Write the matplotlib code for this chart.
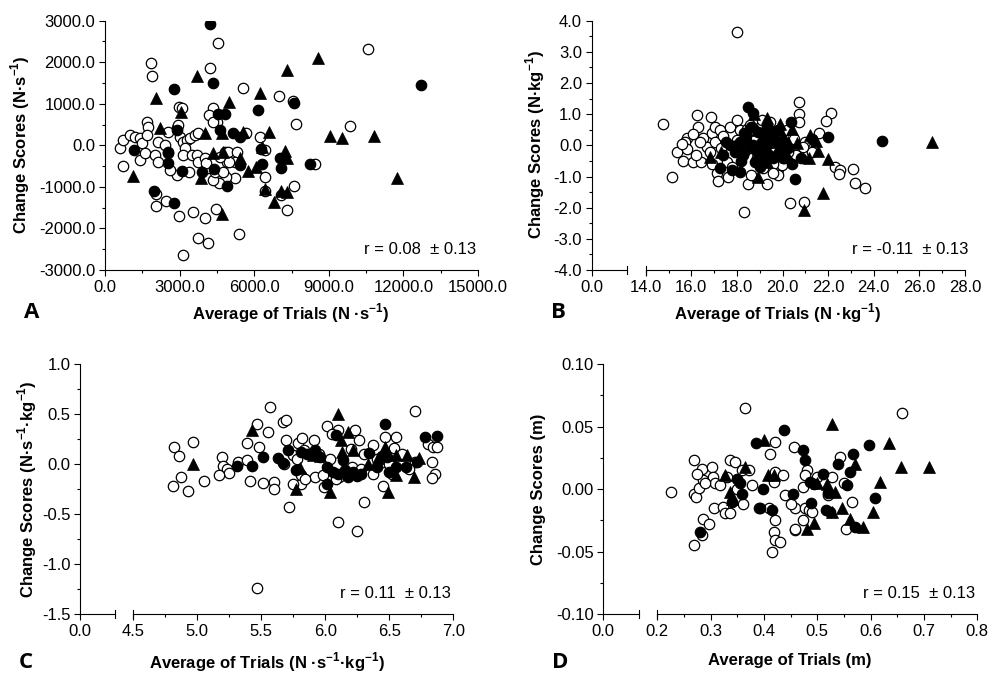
import numpy as np
import matplotlib
matplotlib.use('Agg')
import matplotlib.pyplot as plt
from matplotlib.ticker import MultipleLocator, FormatStrFormatter

plt.rcParams['font.family'] = ['Liberation Sans', 'DejaVu Sans']
plt.rcParams['axes.unicode_minus'] = False
plt.rcParams['mathtext.fontset'] = 'custom'
plt.rcParams['mathtext.rm'] = 'Liberation Sans'
plt.rcParams['mathtext.bf'] = 'Liberation Sans:bold'

# panel A - N.s-1 (average of trials, change score)
a_open = np.array([(4550,2470),(10580,2330),(1835,1970),(1875,1670),(4220,1850),(5560,1370),(7000,1190),
    (7570,1070),(7665,506),(9849,474),(2970,930),(4350,890),(4165,730),(4510,550),(6220,210),(6430,-100),
    (6430,-750),(6450,-1110),(7090,-1190),(7303,-1550),(7612,-970),(8442,-449),(2050,-1180),(2040,-1460),
    (2440,-1340),(2990,-1700),(3550,-1600),(4020,-1760),(4450,-1540),(3720,-2240),(4150,-2340),(5400,-2140),
    (3150,-2640),(5690,290),(740,-490),(5220,-790),(4860,-750),(4590,-910),(4350,-830),(2880,-710),(2610,-590),
    (3390,-630),(603,-72),(737,128),(1005,249),(1206,209),(1407,169),(1474,48),(1675,570),(1742,449),(1675,249),
    (1407,-353),(1608,-193),(2010,-233),(2144,88),(2144,-393),(2412,8),(2546,-193),(2546,329),(2881,409),
    (2948,489),(3015,209),(3149,88),(3283,128),(3417,169),(3216,-72),(3149,-233),(3484,-233),(3618,249),
    (3685,-233),(3752,-393),(4020,-313),(4154,-554),(4422,-634),(4757,-634),(4824,-152),(4958,-152),(5293,-152),
    (5226,-393),(4891,-393),(4355,570),(3082,890),(3720,290),(4080,-430),(4620,-270),(4990,-410)])
a_fill = np.array([(4221,2912),(12700,1450),(4328,1492),(2774,1356),(6137,850),(7600,1020),(4556,754),(4824,754),
    (2881,369),(4623,369),(5159,289),(5420,210),(1179,-112),(2546,-169),(2546,-433),(3109,-618),(3886,-634),
    (4395,-570),(4891,-971),(5427,-473),(6271,-88),(6320,-460),(7035,-313),(7062,-554),(8235,-460),(1983,-1099),
    (2787,-1380)])
a_tri = np.array([(8550,2095),(7303,1813),(3685,1677),(2050,1147),(6231,1252),(4985,1035),(3055,810),(2211,409),
    (4020,289),(4690,289),(5561,329),(6606,313),(9044,232),(9514,168),(10827,232),(11752,-795),(1139,-730),
    (4328,-193),(4757,-152),(5762,-618),(6057,-513),(7236,-137),(7303,-313),(3859,-778),(4690,-1661),
    (6432,-1051),(6807,-1356),(7075,-1099),(7303,-1115),(6298,-32),(5427,-313)])

# panel B - N.kg-1
b_open = np.array([(17.99,3.65),(14.77,0.67),(15.14,-1.0),(18.31,-2.13),(16.26,0.97),(16.85,0.92),(16.31,0.60),
    (15.8,0.22),(15.72,0.12),(16.09,0.36),(15.39,-0.22),(15.62,-0.49),(16.06,-0.52),(16.41,-0.52),(15.8,-0.12),
    (16.53,0.22),(16.67,-0.05),(16.82,-0.2),(16.89,0.39),(17.04,0.6),(17.26,0.49),(17.04,0.12),(17.11,-0.9),
    (17.19,-1.13),(17.63,-1.03),(17.7,0.6),(18.13,0.49),(17.99,0.17),(18.42,0.54),(18.57,0.65),(18.5,-1.24),
    (17.55,-0.52),(20.74,1.4),(20.7,0.99),(20.7,0.75),(22.13,1.03),(21.92,0.78),(22.3,-0.68),(22.52,-0.79),
    (22.48,-0.93),(23.07,-0.77),(23.18,-1.22),(23.62,-1.36),(20.33,-1.86),(20.96,-1.83),(19.31,-1.24),
    (19.75,-0.9),(19.82,-0.76),(19.96,-0.63),(19.16,-0.74),(20.6,-0.31),(21.28,-0.2),(20.24,-0.2),(19.45,0.75),
    (19.96,0.44),(21.0,0.12),(19.0,0.6),(18.8,0.3),(18.3,-0.2),(18.9,-0.4),(19.6,-0.6),(20.9,-0.05),(15.6,0.05),
    (16.2,-0.3),(17.4,0.3),(18.6,-0.95),(19.8,-0.95),(17.8,-0.7),(19.2,0.1),(16.9,-0.6),(17.3,-0.1),
    (18.0,0.8),(19.1,0.8),(19.6,-0.9),(20.2,0.5),(20.5,0.2),(21.6,0.4),(16.4,0.1)])
b_fill = np.array([(18.5,1.24),(18.72,1.03),(17.41,-0.31),(17.26,-0.74),(17.77,-0.79),(18.13,-0.85),(18.28,-0.31),
    (17.7,0.01),(18.13,0.12),(18.57,-0.1),(18.94,0.44),(18.79,-0.52),(19.08,0.12),(24.38,0.14),(22.0,0.28),
    (20.54,-1.09),(20.36,0.75),(21.28,0.2),(19.5,0.33),(19.8,0.12),(20.22,-0.1),(20.8,-0.42),(20.07,-0.42),
    (19.57,-0.42),(19.3,0.0),(18.4,0.3),(19.9,-0.2),(18.0,0.0),(18.3,0.4),(18.6,0.6),(18.9,-0.2),(19.2,0.3),
    (19.4,-0.3),(19.6,0.2),(19.0,-0.7),(18.2,-0.5),(17.9,-0.2),(19.8,0.5),(20.0,-0.4),(20.4,-0.6),(17.5,0.1),
    (18.7,0.0),(19.3,0.6),(20.1,0.0)])
b_tri = np.array([(26.54,0.12),(21.78,-1.54),(20.96,-2.07),(22.0,-0.45),(21.15,-0.42),(21.56,-0.18),(21.48,0.15),
    (21.2,0.33),(20.4,0.54),(20.24,0.12),(19.3,0.87),(18.76,1.0),(18.94,-1.0),(16.82,-0.36),(19.09,-0.1),
    (19.52,0.49),(20.62,0.06),(19.3,-0.55),(18.9,0.5),(20.0,0.3),(19.7,-0.2),(18.5,0.2),(19.5,0.1),(19.9,0.7),
    (18.2,0.0),(20.2,-0.3),(17.3,-0.2),(19.1,-0.4)])

# panel C - N.s-1.kg-1
c_open = np.array([(5.568,0.573),(4.97,0.22),(4.82,0.17),(4.86,0.08),(4.87,-0.13),(4.81,-0.22),(4.93,-0.27),
    (5.05,-0.17),(5.19,0.07),(5.2,-0.02),(5.23,-0.05),(5.25,-0.09),(5.17,-0.11),(5.32,0.02),(5.39,0.21),
    (5.39,0.04),(5.41,-0.17),(5.47,0.40),(5.48,0.17),(5.51,-0.19),(5.55,0.32),(5.6,-0.18),(5.6,-0.25),
    (5.67,0.42),(5.69,0.44),(5.69,0.24),(5.72,-0.43),(5.47,-1.24),(5.79,0.21),(5.81,-0.2),(5.75,0.09),
    (6.70,0.53),(6.01,0.38),(6.10,0.34),(6.23,0.34),(6.26,0.24),(6.37,0.19),(6.47,0.27),(6.55,0.27),(6.54,0.16),
    (6.80,0.20),(6.84,0.17),(6.87,0.17),(6.83,0.02),(6.86,-0.1),(6.83,-0.14),(6.70,0.02),(6.45,-0.22),
    (6.37,-0.1),(6.30,-0.38),(6.10,-0.58),(6.25,-0.67),(5.83,0.14),(5.81,-0.11),(5.92,-0.13),(5.98,-0.11),
    (6.04,0.05),(6.21,-0.03),(6.11,-0.13),(5.91,0.24),(5.82,0.26),(6.45,0.02),(6.58,0.04),(5.99,-0.23),
    (5.68,0.0),(5.78,0.05),(5.95,0.1),(6.05,0.3),(6.15,-0.1),(6.3,0.1),(6.4,0.05),(6.5,0.0),(6.6,0.1),
    (6.65,-0.05),(6.2,0.15),(5.75,-0.2),(5.84,-0.15),(6.08,-0.15),(6.28,-0.05),(6.52,-0.1)])
c_fill = np.array([(5.31,-0.02),(5.43,-0.02),(5.51,0.07),(5.63,0.06),(5.67,0.01),(5.71,0.14),(5.77,-0.06),
    (5.81,0.12),(5.86,0.1),(6.47,0.40),(6.78,0.27),(6.87,0.28),(6.08,0.29),(5.92,0.14),(6.01,-0.03),(6.06,-0.08),
    (6.15,-0.06),(6.18,-0.13),(6.22,-0.08),(6.34,0.11),(6.4,-0.03),(6.48,0.07),(6.55,-0.03),(6.63,-0.03),
    (6.72,0.02),(6.01,-0.2),(6.14,0.04),(6.28,-0.1),(6.5,-0.08),(5.96,0.07),(6.1,-0.1),(6.25,-0.12),(6.44,0.08)])
c_tri = np.array([(4.97,0.0),(5.43,0.34),(5.77,-0.25),(6.10,0.50),(6.04,-0.28),(6.49,-0.28),(6.55,-0.11),
    (6.69,-0.13),(6.64,0.09),(6.73,0.06),(6.47,0.17),(6.18,0.32),(6.12,0.24),(6.13,0.12),(6.22,0.14),(5.9,0.09),
    (5.96,0.08),(6.55,0.09),(5.8,-0.04),(6.41,0.06),(6.33,0.0)])

# panel D - m
d_open = np.array([(0.364,0.065),(0.225,-0.002),(0.268,0.023),(0.268,-0.045),(0.283,-0.037),(0.285,-0.024),
    (0.296,-0.028),(0.268,-0.004),(0.272,-0.006),(0.279,0.001),(0.283,0.016),(0.286,0.007),(0.302,0.018),
    (0.305,0.01),(0.308,0.005),(0.317,0.003),(0.306,-0.015),(0.323,-0.014),(0.327,-0.019),(0.336,-0.019),
    (0.336,0.023),(0.345,0.022),(0.358,0.015),(0.361,-0.012),(0.371,0.015),(0.377,0.003),(0.421,0.038),
    (0.411,0.028),(0.421,0.014),(0.418,0.006),(0.421,-0.025),(0.418,-0.034),(0.421,-0.041),(0.43,-0.042),
    (0.415,-0.05),(0.436,0.011),(0.457,0.034),(0.458,-0.033),(0.658,0.0606),(0.543,0.026),(0.565,-0.01),
    (0.554,-0.032),(0.474,0.002),(0.481,0.015),(0.477,0.011),(0.458,-0.015),(0.477,-0.015),(0.485,-0.017),
    (0.49,-0.018),(0.458,-0.032),(0.474,-0.025),(0.527,0.01),(0.44,-0.005),(0.45,-0.012),(0.33,0.01),(0.35,0.0),
    (0.39,-0.015),(0.41,-0.015),(0.5,0.01),(0.52,-0.005),(0.55,0.005),(0.29,0.005),(0.275,0.012)])
d_fill = np.array([(0.438,0.047),(0.385,0.037),(0.28,-0.034),(0.355,0.005),(0.358,-0.004),(0.34,-0.01),
    (0.349,0.008),(0.399,-0.0),(0.393,-0.015),(0.415,-0.017),(0.596,0.035),(0.566,0.028),(0.608,-0.007),
    (0.474,0.031),(0.477,0.023),(0.539,0.02),(0.511,0.012),(0.561,0.014),(0.486,0.006),(0.493,0.004),
    (0.52,-0.003),(0.455,-0.004),(0.488,-0.011),(0.516,-0.017),(0.524,-0.018),(0.57,-0.03),(0.555,0.003)])
d_tri = np.array([(0.4,0.039),(0.364,0.018),(0.327,0.011),(0.336,-0.002),(0.418,0.011),(0.408,0.011),
    (0.527,0.052),(0.635,0.037),(0.657,0.018),(0.709,0.018),(0.617,0.006),(0.605,-0.018),(0.585,-0.03),
    (0.562,-0.024),(0.546,-0.015),(0.527,-0.018),(0.493,-0.027),(0.48,-0.032),(0.57,0.02),(0.518,0.004),
    (0.534,-0.002),(0.34,-0.008),(0.5,0.005)])

r_text = ['r = 0.08  \u00b1 0.13', 'r = -0.11  \u00b1 0.13', 'r = 0.11  \u00b1 0.13', 'r = 0.15  \u00b1 0.13']

W, H = 990., 675.
fig = plt.figure(figsize=(9.9, 6.75), dpi=100)

def box(l, r, t, b):
    return [l/W, 1-b/H, (r-l)/W, (b-t)/H]

def style(ax):
    ax.spines['top'].set_visible(False)
    ax.spines['right'].set_visible(False)
    for s in ax.spines.values():
        s.set_linewidth(0.8)
    ax.tick_params(which='major', direction='out', length=4, width=0.8, labelsize=12, pad=3)
    ax.tick_params(which='minor', direction='out', length=2.5, width=0.8)

def dots(ax, op, fi, tr):
    ax.plot(op[:,0], op[:,1], 'o', ms=7.5, mfc='white', mec='black', mew=0.9, ls='none')
    ax.plot(fi[:,0], fi[:,1], 'o', ms=7.5, mfc='black', mec='black', mew=0.9, ls='none')
    ax.plot(tr[:,0], tr[:,1], '^', ms=8, mfc='black', mec='black', mew=0.5, ls='none')

def brk(ax, xpos):
    # axis break mark crossing the bottom spine
    ax.plot([xpos, xpos], [-0.017, 0.017], transform=ax.transAxes, color='black', lw=0.8, clip_on=False)

def broken_panel(stub_px, main_px, tb, xlim, xmaj, xmin, ylim, ymaj, ymin, xfmt, yfmt):
    stub = fig.add_axes(box(stub_px[0], stub_px[1], tb[0], tb[1]))
    main = fig.add_axes(box(main_px[0], main_px[1], tb[0], tb[1]))
    for ax in (stub, main):
        style(ax)
        ax.set_ylim(ylim)
    stub.set_xlim(0, 1)
    stub.set_xticks([0])
    stub.set_xticklabels([xfmt % 0])
    stub.yaxis.set_major_locator(MultipleLocator(ymaj))
    stub.yaxis.set_minor_locator(MultipleLocator(ymin))
    stub.yaxis.set_major_formatter(FormatStrFormatter(yfmt))
    brk(stub, 1)
    main.spines['left'].set_visible(False)
    main.set_yticks([])
    main.set_xlim(xlim)
    main.xaxis.set_major_locator(MultipleLocator(xmaj))
    main.xaxis.set_minor_locator(MultipleLocator(xmin))
    main.xaxis.set_major_formatter(FormatStrFormatter(xfmt))
    brk(main, 0)
    return main

# panel A (continuous axis)
axA = fig.add_axes(box(105, 478, 20.7, 270))
style(axA)
axA.set_xlim(0, 15000)
axA.set_ylim(-3000, 3000)
axA.xaxis.set_major_locator(MultipleLocator(3000))
axA.xaxis.set_minor_locator(MultipleLocator(1500))
axA.yaxis.set_major_locator(MultipleLocator(1000))
axA.yaxis.set_minor_locator(MultipleLocator(500))
axA.xaxis.set_major_formatter(FormatStrFormatter('%.1f'))
axA.yaxis.set_major_formatter(FormatStrFormatter('%.1f'))
dots(axA, a_open, a_fill, a_tri)

axB = broken_panel((591.7, 626.7), (645.7, 965), (20.7, 270), (14, 28), 2, 1, (-4, 4), 1, 0.5, '%.1f', '%.1f')
dots(axB, b_open, b_fill, b_tri)
axC = broken_panel((80, 115), (133.3, 453.3), (364, 614), (4.5, 7.0), 0.5, 0.25, (-1.5, 1.0), 0.5, 0.25, '%.1f', '%.1f')
dots(axC, c_open, c_fill, c_tri)
axD = broken_panel((603.3, 639), (657.3, 977.3), (364, 614), (0.2, 0.8), 0.1, 0.05, (-0.1, 0.1), 0.05, 0.025, '%.1f', '%.2f')
dots(axD, d_open, d_fill, d_tri)

sup = '$^{\\mathbf{-1}}$'
ylabels = ['Change Scores (N\u00b7s' + sup + ')', 'Change Scores (N\u00b7kg' + sup + ')',
           'Change Scores (N\u00b7s' + sup + '\u00b7kg' + sup + ')', 'Change Scores (m)']
xlabels = ['Average of Trials (N \u00b7s' + sup + ')', 'Average of Trials (N \u00b7kg' + sup + ')',
           'Average of Trials (N \u00b7s' + sup + '\u00b7kg' + sup + ')', 'Average of Trials (m)']
letters = ['A', 'B', 'C', 'D']
ylab_pos = [(20, 145), (535, 145), (27, 489), (538, 489)]
xlab_pos = [(291, 313), (778, 313), (267, 662), (790, 661)]
let_pos = [(32, 312), (558, 312), (26, 663), (560, 663)]
r_pos = [(476, 250), (968, 250), (451, 593), (975, 593)]

for i in range(4):
    fig.text(ylab_pos[i][0]/W, 1-ylab_pos[i][1]/H, ylabels[i], rotation=90, ha='center', va='center',
             fontsize=12, fontweight='bold')
    fig.text(xlab_pos[i][0]/W, 1-xlab_pos[i][1]/H, xlabels[i], ha='center', va='center',
             fontsize=12, fontweight='bold')
    fig.text(let_pos[i][0]/W, 1-let_pos[i][1]/H, letters[i], ha='center', va='center',
             fontsize=16, fontweight='bold', family='Open Sans')
    fig.text(r_pos[i][0]/W, 1-r_pos[i][1]/H, r_text[i], ha='right', va='center', fontsize=12)

fig.savefig('out.png', dpi=100)
